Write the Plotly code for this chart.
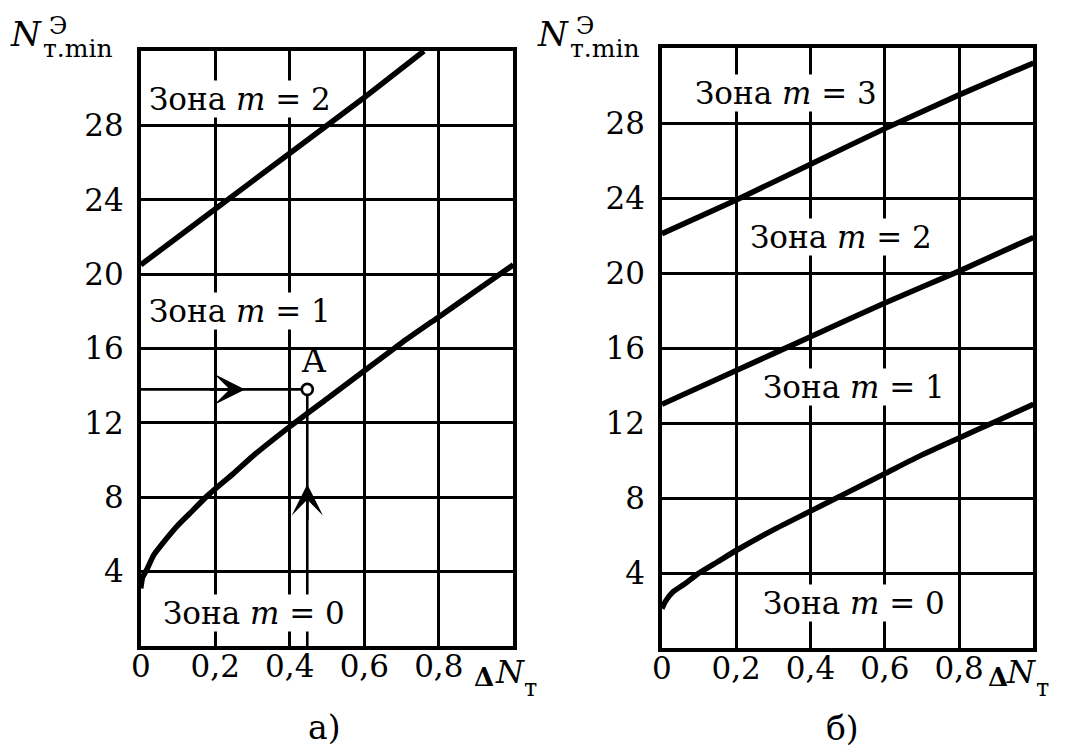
import plotly.graph_objects as go

W, H = 1078, 747
SERIF = "DejaVu Serif"

# ---------------- data ----------------
x_tick_vals = [0, 0.2, 0.4, 0.6, 0.8]
x_tick_text = ["0", "0,2", "0,4", "0,6", "0,8"]
y_tick_vals = [4, 8, 12, 16, 20, 24, 28]
y_tick_text = ["4", "8", "12", "16", "20", "24", "28"]

# panel а): boundaries between the zones
a_upper_x = [0.0, 0.2, 0.4, 0.6, 0.76]
a_upper_y = [20.5, 23.5, 26.5, 29.5, 32.0]
a_lower_x = [0.0, 0.005, 0.016, 0.035, 0.066, 0.1, 0.13, 0.18, 0.25, 0.3,
             0.4, 0.5, 0.6, 0.7, 0.8, 0.9, 1.0]
a_lower_y = [3.1, 3.7, 4.1, 4.9, 5.7, 6.5, 7.1, 8.1, 9.3, 10.2,
             11.8, 13.3, 14.8, 16.3, 17.7, 19.1, 20.5]

# working point A and the construction arrows leading to it
point_a_x, point_a_y = 0.447, 13.8
arrow_h_tip_x = 0.28
arrow_v_tip_y = 8.7

# panel б): boundaries between the zones
b_top_x = [0.0, 0.2, 0.4, 0.6, 0.8, 1.0]
b_top_y = [22.1, 23.9, 25.8, 27.7, 29.5, 31.2]
b_mid_x = [0.0, 0.2, 0.4, 0.6, 0.8, 1.0]
b_mid_y = [13.0, 14.8, 16.6, 18.4, 20.1, 21.9]
b_low_x = [0.0, 0.01, 0.03, 0.06, 0.1, 0.15, 0.2, 0.3, 0.4, 0.5,
           0.6, 0.7, 0.8, 0.9, 1.0]
b_low_y = [2.1, 2.5, 3.0, 3.4, 4.0, 4.6, 5.2, 6.3, 7.3, 8.3,
           9.3, 10.3, 11.2, 12.1, 13.0]

zone_labels_a = [("Зона <i>m</i> = 2", 0.019, 29.4),
                 ("Зона <i>m</i> = 1", 0.019, 18.0),
                 ("Зона <i>m</i> = 0", 0.057, 1.8)]
zone_labels_b = [("Зона <i>m</i> = 3", 0.087, 29.6),
                 ("Зона <i>m</i> = 2", 0.234, 21.9),
                 ("Зона <i>m</i> = 1", 0.269, 13.9),
                 ("Зона <i>m</i> = 0", 0.269, 2.4)]


def px(x):
    return x / W


def py(y):
    return 1 - y / H


def font(size):
    return dict(family=SERIF, size=size, color="black")


fig = go.Figure()

curve = dict(color="black", width=5.5, shape="spline", smoothing=0.5)
thin = dict(color="black", width=2.6)

# panel а)
fig.add_trace(go.Scatter(x=a_upper_x, y=a_upper_y, mode="lines", line=curve,
                         xaxis="x", yaxis="y"))
fig.add_trace(go.Scatter(x=a_lower_x, y=a_lower_y, mode="lines", line=curve,
                         xaxis="x", yaxis="y"))
fig.add_trace(go.Scatter(x=[0, point_a_x], y=[point_a_y, point_a_y], mode="lines",
                         line=thin, xaxis="x", yaxis="y"))
fig.add_trace(go.Scatter(x=[point_a_x, point_a_x], y=[point_a_y, 0], mode="lines",
                         line=thin, xaxis="x", yaxis="y"))
fig.add_trace(go.Scatter(x=[point_a_x], y=[point_a_y], mode="markers",
                         marker=dict(symbol="circle", size=11, color="white",
                                     line=dict(color="black", width=2.6)),
                         xaxis="x", yaxis="y"))

# panel б)
for xs, ys in [(b_top_x, b_top_y), (b_mid_x, b_mid_y), (b_low_x, b_low_y)]:
    fig.add_trace(go.Scatter(x=xs, y=ys, mode="lines", line=curve,
                             xaxis="x2", yaxis="y2"))

# arrowheads on the construction lines
fig.add_annotation(x=arrow_h_tip_x, y=point_a_y, ax=arrow_h_tip_x - 0.1, ay=point_a_y,
                   xref="x", yref="y", axref="x", ayref="y", text="",
                   showarrow=True, arrowhead=3, arrowsize=2.0, arrowwidth=2.6,
                   arrowcolor="black")
fig.add_annotation(x=point_a_x, y=arrow_v_tip_y, ax=point_a_x, ay=arrow_v_tip_y - 2,
                   xref="x", yref="y", axref="x", ayref="y", text="",
                   showarrow=True, arrowhead=3, arrowsize=2.0, arrowwidth=2.6,
                   arrowcolor="black")
fig.add_annotation(x=point_a_x + 0.017, y=point_a_y + 1.55, xref="x", yref="y",
                   text="A", showarrow=False, xanchor="center", yanchor="middle",
                   font=font(33))

for text, x, y in zone_labels_a:
    fig.add_annotation(x=x, y=y, xref="x", yref="y", text=text, showarrow=False,
                       xanchor="left", yanchor="middle", bgcolor="white", borderpad=0,
                       font=font(31))
for text, x, y in zone_labels_b:
    fig.add_annotation(x=x, y=y, xref="x2", yref="y2", text=text, showarrow=False,
                       xanchor="left", yanchor="middle", bgcolor="white", borderpad=0,
                       font=font(31))


def paper_text(text, x, y, size, xanchor="left"):
    fig.add_annotation(x=px(x), y=py(y), xref="paper", yref="paper", text=text,
                       showarrow=False, xanchor=xanchor, yanchor="middle", font=font(size))


# axis titles: N^Э_т.min and ΔN_т, panel captions
for dx in (0, 532):
    paper_text("<i>N</i>", -2 + dx, 34, 34)
    paper_text("Э", 37 + dx, 26, 24)
    paper_text("т.min", 31 + dx, 48, 25)

for xd, xn, xt in [(466, 488, 517), (985, 1003, 1034)]:
    paper_text("<b>Δ</b>", xd, 677, 26)
    paper_text("<i>N</i>", xn, 672, 32)
    paper_text("т", xt, 688, 24)

paper_text("а)", 317, 727, 33, xanchor="center")
paper_text("б)", 840, 728, 33, xanchor="center")


def axis_common():
    return dict(tickmode="array", showgrid=True, gridcolor="black", gridwidth=3,
                showline=True, linecolor="black", linewidth=3.5, mirror=True,
                ticks="", zeroline=False, tickfont=font(31), fixedrange=True)


def xaxis(domain, anchor):
    return dict(axis_common(), domain=domain, anchor=anchor, range=[0, 1],
                tickvals=x_tick_vals, ticktext=x_tick_text, ticklabelstandoff=-10)


def yaxis(domain, anchor):
    return dict(axis_common(), domain=domain, anchor=anchor, range=[0, 32],
                tickvals=y_tick_vals, ticktext=y_tick_text, ticklabelstandoff=7)


fig.update_layout(
    width=W, height=H, margin=dict(l=0, r=0, t=0, b=0),
    paper_bgcolor="white", plot_bgcolor="white", showlegend=False,
    xaxis=xaxis([132 / W, 508 / W], "y"),
    yaxis=yaxis([(H - 646) / H, (H - 51) / H], "x"),
    xaxis2=xaxis([658 / W, 1033 / W], "y2"),
    yaxis2=yaxis([(H - 648) / H, (H - 48) / H], "x2"),
)

fig.write_html("out.html")
